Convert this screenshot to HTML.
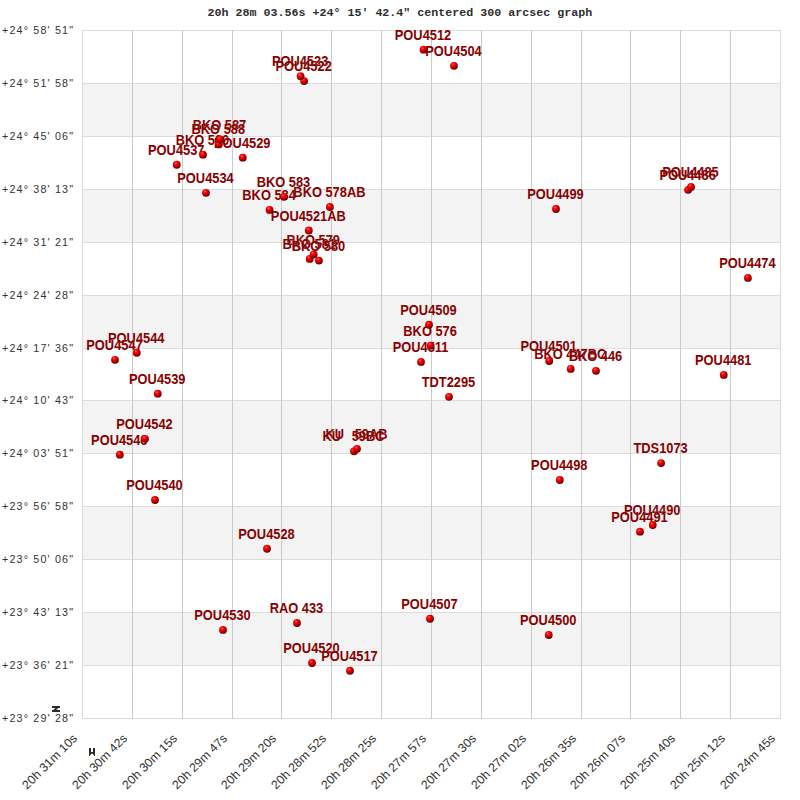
<!DOCTYPE html><html><head><meta charset="utf-8"><style>html,body{margin:0;padding:0;background:#fff;width:800px;height:800px;overflow:hidden}svg{display:block}</style></head><body>
<svg width="800" height="800" viewBox="0 0 800 800">
<defs><radialGradient id="g" cx="0.38" cy="0.32" r="0.75" fx="0.38" fy="0.3"><stop offset="0" stop-color="#ffa8a8"/><stop offset="0.1" stop-color="#ff3c3c"/><stop offset="0.3" stop-color="#fa0000"/><stop offset="0.6" stop-color="#c00000"/><stop offset="0.85" stop-color="#720000"/><stop offset="1" stop-color="#420000"/></radialGradient></defs>
<rect width="800" height="800" fill="#fff"/>
<rect x="82" y="83" width="698" height="53" fill="#f3f3f3"/>
<rect x="82" y="189" width="698" height="53" fill="#f3f3f3"/>
<rect x="82" y="295" width="698" height="53" fill="#f3f3f3"/>
<rect x="82" y="400" width="698" height="53" fill="#f3f3f3"/>
<rect x="82" y="506" width="698" height="53" fill="#f3f3f3"/>
<rect x="82" y="612" width="698" height="53" fill="#f3f3f3"/>
<text x="207.5" y="16.1" font-family="&quot;Liberation Mono&quot;, monospace" font-weight="bold" font-size="11.67" fill="#2e2e2e" xml:space="preserve">20h 28m 03.56s +24° 15′ 42.4" centered 300 arcsec graph</text>
<g stroke-width="1" shape-rendering="crispEdges">
<line x1="82" y1="30.5" x2="781" y2="30.5" stroke="#dadada"/>
<line x1="82" y1="83.5" x2="781" y2="83.5" stroke="#dcdcdc"/>
<line x1="82" y1="136.5" x2="781" y2="136.5" stroke="#dcdcdc"/>
<line x1="82" y1="189.5" x2="781" y2="189.5" stroke="#dcdcdc"/>
<line x1="82" y1="242.5" x2="781" y2="242.5" stroke="#dcdcdc"/>
<line x1="82" y1="295.5" x2="781" y2="295.5" stroke="#dcdcdc"/>
<line x1="82" y1="348.5" x2="781" y2="348.5" stroke="#dcdcdc"/>
<line x1="82" y1="400.5" x2="781" y2="400.5" stroke="#dcdcdc"/>
<line x1="82" y1="453.5" x2="781" y2="453.5" stroke="#dcdcdc"/>
<line x1="82" y1="506.5" x2="781" y2="506.5" stroke="#dcdcdc"/>
<line x1="82" y1="559.5" x2="781" y2="559.5" stroke="#dcdcdc"/>
<line x1="82" y1="612.5" x2="781" y2="612.5" stroke="#dcdcdc"/>
<line x1="82" y1="665.5" x2="781" y2="665.5" stroke="#dcdcdc"/>
<line x1="82" y1="718.5" x2="781" y2="718.5" stroke="#dadada"/>
<line x1="82.5" y1="30" x2="82.5" y2="719" stroke="#dadada"/>
<line x1="132.5" y1="30" x2="132.5" y2="719" stroke="#cacaca"/>
<line x1="182.5" y1="30" x2="182.5" y2="719" stroke="#cacaca"/>
<line x1="232.5" y1="30" x2="232.5" y2="719" stroke="#cacaca"/>
<line x1="281.5" y1="30" x2="281.5" y2="719" stroke="#cacaca"/>
<line x1="331.5" y1="30" x2="331.5" y2="719" stroke="#cacaca"/>
<line x1="381.5" y1="30" x2="381.5" y2="719" stroke="#cacaca"/>
<line x1="431.5" y1="30" x2="431.5" y2="719" stroke="#cacaca"/>
<line x1="481.5" y1="30" x2="481.5" y2="719" stroke="#cacaca"/>
<line x1="531.5" y1="30" x2="531.5" y2="719" stroke="#cacaca"/>
<line x1="581.5" y1="30" x2="581.5" y2="719" stroke="#cacaca"/>
<line x1="630.5" y1="30" x2="630.5" y2="719" stroke="#cacaca"/>
<line x1="680.5" y1="30" x2="680.5" y2="719" stroke="#cacaca"/>
<line x1="730.5" y1="30" x2="730.5" y2="719" stroke="#cacaca"/>
<line x1="780.5" y1="30" x2="780.5" y2="719" stroke="#dadada"/>
</g>
<g font-family="&quot;Liberation Sans&quot;, sans-serif" font-weight="bold" font-size="13.8" fill="#880000" stroke="#fbffff" stroke-opacity="0.45" stroke-width="0.6" stroke-linejoin="round" paint-order="stroke">
<text transform="translate(423.0,39.7) scale(0.931,1)" text-anchor="middle">POU4512</text>
<text transform="translate(453.5,55.8) scale(0.931,1)" text-anchor="middle">POU4504</text>
<text transform="translate(300.1,66.2) scale(0.931,1)" text-anchor="middle">POU4523</text>
<text transform="translate(303.6,71.1) scale(0.931,1)" text-anchor="middle">POU4522</text>
<text transform="translate(219.5,129.5) scale(0.931,1)" text-anchor="middle">BKO 587</text>
<text transform="translate(218.3,134.4) scale(0.931,1)" text-anchor="middle">BKO 588</text>
<text transform="translate(202.5,144.7) scale(0.931,1)" text-anchor="middle">BKO 590</text>
<text transform="translate(242.25,147.7) scale(0.931,1)" text-anchor="middle">POU4529</text>
<text transform="translate(176.25,154.75) scale(0.931,1)" text-anchor="middle">POU4537</text>
<text transform="translate(205.5,182.8) scale(0.931,1)" text-anchor="middle">POU4534</text>
<text transform="translate(283.5,186.8) scale(0.931,1)" text-anchor="middle">BKO 583</text>
<text transform="translate(269.1,199.9) scale(0.931,1)" text-anchor="middle">BKO 584</text>
<text transform="translate(329.4,197.0) scale(0.931,1)" text-anchor="middle">BKO 578AB</text>
<text transform="translate(308.3,220.5) scale(0.931,1)" text-anchor="middle">POU4521AB</text>
<text transform="translate(313.2,244.5) scale(0.931,1)" text-anchor="middle">BKO 579</text>
<text transform="translate(309.2,248.9) scale(0.931,1)" text-anchor="middle">BKO 581</text>
<text transform="translate(318.4,250.6) scale(0.931,1)" text-anchor="middle">BKO 580</text>
<text transform="translate(555.5,199.0) scale(0.931,1)" text-anchor="middle">POU4499</text>
<text transform="translate(690.5,177.0) scale(0.931,1)" text-anchor="middle">POU4485</text>
<text transform="translate(687.6,179.8) scale(0.931,1)" text-anchor="middle">POU4486</text>
<text transform="translate(747.4,267.9) scale(0.931,1)" text-anchor="middle">POU4474</text>
<text transform="translate(428.5,314.75) scale(0.931,1)" text-anchor="middle">POU4509</text>
<text transform="translate(430.1,335.6) scale(0.931,1)" text-anchor="middle">BKO 576</text>
<text transform="translate(420.5,351.9) scale(0.931,1)" text-anchor="middle">POU4511</text>
<text transform="translate(548.7,351.0) scale(0.931,1)" text-anchor="middle">POU4501</text>
<text transform="translate(570.2,358.9) scale(0.931,1)" text-anchor="middle">BKO 447BC</text>
<text transform="translate(595.5,360.8) scale(0.931,1)" text-anchor="middle">BKO 446</text>
<text transform="translate(723.25,364.9) scale(0.931,1)" text-anchor="middle">POU4481</text>
<text transform="translate(136.25,342.75) scale(0.931,1)" text-anchor="middle">POU4544</text>
<text transform="translate(114.5,349.8) scale(0.931,1)" text-anchor="middle">POU4547</text>
<text transform="translate(157.25,383.7) scale(0.931,1)" text-anchor="middle">POU4539</text>
<text transform="translate(448.5,386.8) scale(0.931,1)" text-anchor="middle">TDT2295</text>
<text transform="translate(144.5,428.8) scale(0.931,1)" text-anchor="middle">POU4542</text>
<text transform="translate(119.3,444.7) scale(0.931,1)" text-anchor="middle">POU4546</text>
<text transform="translate(356.5,438.8) scale(0.931,1)" text-anchor="middle">KU   59AB</text>
<text transform="translate(353.5,441.3) scale(0.931,1)" text-anchor="middle">KU   59BC</text>
<text transform="translate(660.6,453.1) scale(0.931,1)" text-anchor="middle">TDS1073</text>
<text transform="translate(559.3,470.0) scale(0.931,1)" text-anchor="middle">POU4498</text>
<text transform="translate(154.5,490.0) scale(0.931,1)" text-anchor="middle">POU4540</text>
<text transform="translate(652.25,515.0) scale(0.931,1)" text-anchor="middle">POU4490</text>
<text transform="translate(639.5,521.7) scale(0.931,1)" text-anchor="middle">POU4491</text>
<text transform="translate(266.5,538.75) scale(0.931,1)" text-anchor="middle">POU4528</text>
<text transform="translate(296.5,613.0) scale(0.931,1)" text-anchor="middle">RAO 433</text>
<text transform="translate(429.5,608.75) scale(0.931,1)" text-anchor="middle">POU4507</text>
<text transform="translate(222.5,619.9) scale(0.931,1)" text-anchor="middle">POU4530</text>
<text transform="translate(548.25,625.0) scale(0.931,1)" text-anchor="middle">POU4500</text>
<text transform="translate(311.5,653.0) scale(0.931,1)" text-anchor="middle">POU4520</text>
<text transform="translate(349.5,660.75) scale(0.931,1)" text-anchor="middle">POU4517</text>
</g>
<g fill="url(#g)">
<circle cx="350.0" cy="670.75" r="3.9"/>
<circle cx="312.0" cy="663.0" r="3.9"/>
<circle cx="548.75" cy="635.0" r="3.9"/>
<circle cx="223.0" cy="629.9" r="3.9"/>
<circle cx="297.0" cy="623.0" r="3.9"/>
<circle cx="430.0" cy="618.75" r="3.9"/>
<circle cx="267.0" cy="548.75" r="3.9"/>
<circle cx="640.0" cy="531.7" r="3.9"/>
<circle cx="652.75" cy="525.0" r="3.9"/>
<circle cx="155.0" cy="500.0" r="3.9"/>
<circle cx="559.8" cy="480.0" r="3.9"/>
<circle cx="661.1" cy="463.1" r="3.9"/>
<circle cx="119.8" cy="454.7" r="3.9"/>
<circle cx="354.0" cy="451.3" r="3.9"/>
<circle cx="357.0" cy="448.8" r="3.9"/>
<circle cx="145.0" cy="438.8" r="3.9"/>
<circle cx="449.0" cy="396.8" r="3.9"/>
<circle cx="157.75" cy="393.7" r="3.9"/>
<circle cx="723.75" cy="374.9" r="3.9"/>
<circle cx="596.0" cy="370.8" r="3.9"/>
<circle cx="570.7" cy="368.9" r="3.9"/>
<circle cx="421.0" cy="361.9" r="3.9"/>
<circle cx="549.2" cy="361.0" r="3.9"/>
<circle cx="115.0" cy="359.8" r="3.9"/>
<circle cx="136.75" cy="352.75" r="3.9"/>
<circle cx="430.6" cy="345.6" r="3.9"/>
<circle cx="429.0" cy="324.75" r="3.9"/>
<circle cx="747.9" cy="277.9" r="3.9"/>
<circle cx="318.9" cy="260.6" r="3.9"/>
<circle cx="309.7" cy="258.9" r="3.9"/>
<circle cx="313.7" cy="254.5" r="3.9"/>
<circle cx="308.8" cy="230.5" r="3.9"/>
<circle cx="269.6" cy="209.9" r="3.9"/>
<circle cx="556.0" cy="209.0" r="3.9"/>
<circle cx="329.9" cy="207.0" r="3.9"/>
<circle cx="284.0" cy="196.8" r="3.9"/>
<circle cx="206.0" cy="192.8" r="3.9"/>
<circle cx="688.1" cy="189.8" r="3.9"/>
<circle cx="691.0" cy="187.0" r="3.9"/>
<circle cx="176.75" cy="164.75" r="3.9"/>
<circle cx="242.75" cy="157.7" r="3.9"/>
<circle cx="203.0" cy="154.7" r="3.9"/>
<circle cx="218.8" cy="144.4" r="3.9"/>
<circle cx="220.0" cy="139.5" r="3.9"/>
<circle cx="304.1" cy="81.1" r="3.9"/>
<circle cx="300.6" cy="76.2" r="3.9"/>
<circle cx="454.0" cy="65.8" r="3.9"/>
<circle cx="423.5" cy="49.7" r="3.9"/>
</g>
<g font-family="&quot;Liberation Sans&quot;, sans-serif" font-weight="bold" font-size="13.8" fill="#880000" stroke="#fbffff" stroke-opacity="0.45" stroke-width="0.6" stroke-linejoin="round" paint-order="stroke">
</g>
<g font-family="&quot;Liberation Sans&quot;, sans-serif" font-size="11.4" fill="#333">
<text transform="translate(2,34) scale(0.94,1)" textLength="75.53" lengthAdjust="spacing">+24° 58' 51&quot;</text>
<text transform="translate(2,87) scale(0.94,1)" textLength="75.53" lengthAdjust="spacing">+24° 51' 58&quot;</text>
<text transform="translate(2,140) scale(0.94,1)" textLength="75.53" lengthAdjust="spacing">+24° 45' 06&quot;</text>
<text transform="translate(2,193) scale(0.94,1)" textLength="75.53" lengthAdjust="spacing">+24° 38' 13&quot;</text>
<text transform="translate(2,246) scale(0.94,1)" textLength="75.53" lengthAdjust="spacing">+24° 31' 21&quot;</text>
<text transform="translate(2,299) scale(0.94,1)" textLength="75.53" lengthAdjust="spacing">+24° 24' 28&quot;</text>
<text transform="translate(2,352) scale(0.94,1)" textLength="75.53" lengthAdjust="spacing">+24° 17' 36&quot;</text>
<text transform="translate(2,404) scale(0.94,1)" textLength="75.53" lengthAdjust="spacing">+24° 10' 43&quot;</text>
<text transform="translate(2,457) scale(0.94,1)" textLength="75.53" lengthAdjust="spacing">+24° 03' 51&quot;</text>
<text transform="translate(2,510) scale(0.94,1)" textLength="75.53" lengthAdjust="spacing">+23° 56' 58&quot;</text>
<text transform="translate(2,563) scale(0.94,1)" textLength="75.53" lengthAdjust="spacing">+23° 50' 06&quot;</text>
<text transform="translate(2,616) scale(0.94,1)" textLength="75.53" lengthAdjust="spacing">+23° 43' 13&quot;</text>
<text transform="translate(2,669) scale(0.94,1)" textLength="75.53" lengthAdjust="spacing">+23° 36' 21&quot;</text>
<text transform="translate(2,722) scale(0.94,1)" textLength="75.53" lengthAdjust="spacing">+23° 29' 28&quot;</text>
</g>
<g font-family="&quot;Liberation Sans&quot;, sans-serif" font-size="12.1" fill="#333">
<text x="0" y="0" text-anchor="end" textLength="72" lengthAdjust="spacingAndGlyphs" transform="translate(78,739) rotate(-45)">20h 31m 10s</text>
<text x="0" y="0" text-anchor="end" textLength="72" lengthAdjust="spacingAndGlyphs" transform="translate(128,739) rotate(-45)">20h 30m 42s</text>
<text x="0" y="0" text-anchor="end" textLength="72" lengthAdjust="spacingAndGlyphs" transform="translate(178,739) rotate(-45)">20h 30m 15s</text>
<text x="0" y="0" text-anchor="end" textLength="72" lengthAdjust="spacingAndGlyphs" transform="translate(228,739) rotate(-45)">20h 29m 47s</text>
<text x="0" y="0" text-anchor="end" textLength="72" lengthAdjust="spacingAndGlyphs" transform="translate(277,739) rotate(-45)">20h 29m 20s</text>
<text x="0" y="0" text-anchor="end" textLength="72" lengthAdjust="spacingAndGlyphs" transform="translate(327,739) rotate(-45)">20h 28m 52s</text>
<text x="0" y="0" text-anchor="end" textLength="72" lengthAdjust="spacingAndGlyphs" transform="translate(377,739) rotate(-45)">20h 28m 25s</text>
<text x="0" y="0" text-anchor="end" textLength="72" lengthAdjust="spacingAndGlyphs" transform="translate(427,739) rotate(-45)">20h 27m 57s</text>
<text x="0" y="0" text-anchor="end" textLength="72" lengthAdjust="spacingAndGlyphs" transform="translate(477,739) rotate(-45)">20h 27m 30s</text>
<text x="0" y="0" text-anchor="end" textLength="72" lengthAdjust="spacingAndGlyphs" transform="translate(527,739) rotate(-45)">20h 27m 02s</text>
<text x="0" y="0" text-anchor="end" textLength="72" lengthAdjust="spacingAndGlyphs" transform="translate(577,739) rotate(-45)">20h 26m 35s</text>
<text x="0" y="0" text-anchor="end" textLength="72" lengthAdjust="spacingAndGlyphs" transform="translate(626,739) rotate(-45)">20h 26m 07s</text>
<text x="0" y="0" text-anchor="end" textLength="72" lengthAdjust="spacingAndGlyphs" transform="translate(676,739) rotate(-45)">20h 25m 40s</text>
<text x="0" y="0" text-anchor="end" textLength="72" lengthAdjust="spacingAndGlyphs" transform="translate(726,739) rotate(-45)">20h 25m 12s</text>
<text x="0" y="0" text-anchor="end" textLength="72" lengthAdjust="spacingAndGlyphs" transform="translate(776,739) rotate(-45)">20h 24m 45s</text>
</g>
<g fill="#2b2b2b">
<rect x="52" y="706" width="8" height="2"/><rect x="52" y="710" width="8" height="2"/><path d="M53 710.2 L56 710.2 L58.6 707.8 L55.6 707.8 Z"/>
<path d="M89 748 H91 V754 L89.8 756 H89 Z"/><path d="M93 748 H95 V756 H94.2 L93 754 Z"/><rect x="90.8" y="752" width="2.4" height="1.8"/>
</g>
</svg></body></html>
